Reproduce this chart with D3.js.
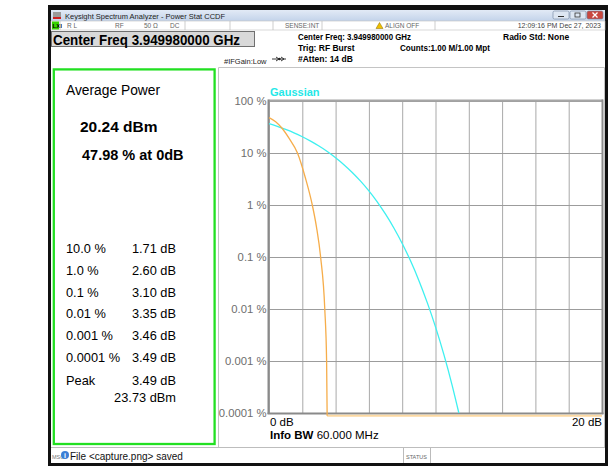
<!DOCTYPE html>
<html><head><meta charset="utf-8">
<script src="https://cdn.jsdelivr.net/npm/d3@7"></script>
<style>
html,body{margin:0;padding:0;background:#fff;overflow:hidden}
svg{display:block;font-family:"Liberation Sans",Arial,sans-serif}
</style>
</head><body>
<svg id="c" width="608" height="466"></svg>
<script>
// ---- data ----
const yTickValues = [100, 10, 1, 0.1, 0.01, 0.001, 0.0001];
const yTickLabels = ["100 %", "10 %", "1 %", "0.1 %", "0.01 %", "0.001 %", "0.0001 %"];
const xGridValues = [0, 2, 4, 6, 8, 10, 12, 14, 16, 18, 20];
const xEndLabels = ["0 dB", "20 dB"];
const gaussianDb  = [0, 0.5, 1, 1.5, 2, 2.5, 3, 3.5, 4, 4.5, 5, 5.5, 6, 6.5, 7, 7.5, 8, 8.5, 9, 9.5, 10, 10.5, 11, 11.4];
const gaussianPct = [36.8, 32.6, 28.4, 24.4, 20.5, 16.9, 13.6, 10.7, 8.11, 5.97, 4.23, 2.88, 1.87, 1.15, 0.665, 0.361, 0.182, 0.0843, 0.0355, 0.0134, 0.00454, 0.00134, 0.000341, 0.000101];
const measuredDb  = [0, 0.4, 0.76, 1.2, 1.71, 2.2, 2.6, 2.85, 3.1, 3.35, 3.46, 3.49];
const measuredPct = [47.98, 40, 30.6, 19.3, 10, 3.2, 1, 0.38, 0.1, 0.01, 0.001, 0.0001];
const floorDb  = [3.49, 20];
const floorPct = [0.0000885, 0.0000885];
const statPercent = ["10.0 %", "1.0 %", "0.1 %", "0.01 %", "0.001 %", "0.0001 %"];
const statDb      = ["1.71 dB", "2.60 dB", "3.10 dB", "3.35 dB", "3.46 dB", "3.49 dB"];
const peakDb = "3.49 dB", peakDbm = "23.73 dBm";
const avgPower = "20.24 dBm", avgPct = "47.98 % at 0dB";
const centerFreq = "Center Freq 3.949980000 GHz";

const svg = d3.select("#c");

// ---- window chrome ----
svg.append("rect").attr("x",48).attr("y",5).attr("width",560).attr("height",461).attr("fill","#111");
svg.append("rect").attr("x",51).attr("y",10).attr("width",554).attr("height",453).attr("fill","#fff");
const defs = svg.append("defs");
const g1 = defs.append("linearGradient").attr("id","tb").attr("x1",0).attr("x2",0).attr("y1",0).attr("y2",1);
g1.append("stop").attr("offset","0").attr("stop-color","#e2eaf6");
g1.append("stop").attr("offset","1").attr("stop-color","#c3d3ea");
svg.append("rect").attr("x",51).attr("y",10).attr("width",554).attr("height",11).attr("fill","url(#tb)");
svg.append("rect").attr("x",53).attr("y",12).attr("width",8).attr("height",7).attr("fill","#9a9a9a");
svg.append("rect").attr("x",53).attr("y",17).attr("width",8).attr("height",2).attr("fill","#d02020");
svg.append("text").attr("x",65).attr("y",18.5).attr("font-size",7.5).attr("fill","#222")
  .text("Keysight Spectrum Analyzer - Power Stat CCDF");
[[553,"#dde6f2"],[570,"#dde6f2"],[587,"#c9473f"]].forEach(([bx,c])=>{
  svg.append("rect").attr("x",bx).attr("y",11).attr("width",16).attr("height",8).attr("rx",1.5)
    .attr("fill",c).attr("stroke","#6b7f9c").attr("stroke-width",0.6);
});
svg.append("line").attr("x1",558).attr("x2",564).attr("y1",16.5).attr("y2",16.5).attr("stroke","#333").attr("stroke-width",1);
svg.append("rect").attr("x",575).attr("y",13).attr("width",5).attr("height",4).attr("fill","none").attr("stroke","#333").attr("stroke-width",0.8);
svg.append("path").attr("d","M592.5,12.5 L597.5,17.5 M597.5,12.5 L592.5,17.5").attr("stroke","#fff").attr("stroke-width",1.3);

// status row
svg.append("rect").attr("x",51).attr("y",21).attr("width",554).attr("height",9).attr("fill","#fff")
  .attr("stroke","#c0c0c0").attr("stroke-width",0.6);
svg.append("rect").attr("x",52).attr("y",21.5).attr("width",7).attr("height",8).attr("fill","#36d400");
svg.append("text").attr("x",52.5).attr("y",28).attr("font-size",6).attr("font-weight","bold").attr("fill","#000").text("LXI");
[60,185,230,273,322,435].forEach(sx=>{
  svg.append("line").attr("x1",sx).attr("x2",sx).attr("y1",21).attr("y2",30).attr("stroke","#c0c0c0").attr("stroke-width",0.8);
});
const st = [["R L",67],["RF",115],["50 Ω",144],["DC",170],["SENSE:INT",285],["ALIGN OFF",385]];
st.forEach(([t,sx])=>svg.append("text").attr("x",sx).attr("y",28).attr("font-size",6.5).attr("fill","#666").text(t));
svg.append("path").attr("d","M376,28.5 L379.5,22.5 L383,28.5 Z").attr("fill","#f0c000").attr("stroke","#8a6d00").attr("stroke-width",0.5);
svg.append("text").attr("x",601).attr("y",28).attr("text-anchor","end").attr("font-size",7).attr("fill","#444")
  .text("12:09:16 PM Dec 27, 2023");

// center freq box
svg.append("rect").attr("x",51.5).attr("y",31.5).attr("width",203).attr("height",15).attr("fill","#d9d9d9")
  .attr("stroke","#707070").attr("stroke-width",1);
svg.append("text").attr("x",53).attr("y",44.5).attr("font-size",14).attr("font-weight","bold").attr("fill","#000")
  .attr("textLength",187).attr("lengthAdjust","spacingAndGlyphs").text(centerFreq);

// right header info
const hdr = [["Center Freq: 3.949980000 GHz",298,39.5,113],["Trig: RF Burst",298,50.5,null],["#Atten: 14 dB",298,61.5,null],
             ["Counts:1.00 M/1.00 Mpt",400,50.5,90],["Radio Std: None",503,39.5,null]];
hdr.forEach(([t,hx,hy,tl])=>{
  const e = svg.append("text").attr("x",hx).attr("y",hy).attr("font-size",8.5).attr("font-weight","bold").attr("fill","#000").text(t);
  if (tl) e.attr("textLength",tl).attr("lengthAdjust","spacingAndGlyphs");
});
svg.append("text").attr("x",224).attr("y",63.5).attr("font-size",7.5).attr("fill","#222").text("#IFGain:Low");
svg.append("path").attr("d","M272,59 L286,59 M276,57 L279,59 L276,61 M281,57 L284,59 L281,61").attr("stroke","#222").attr("stroke-width",0.9).attr("fill","none");
svg.append("circle").attr("cx",279.5).attr("cy",59).attr("r",1.2).attr("fill","#222");

// ---- left panel ----
svg.append("rect").attr("x",53.8).attr("y",69.4).attr("width",160.8).attr("height",374.6)
  .attr("fill","#fff").attr("stroke","#22e022").attr("stroke-width",2.3);
svg.append("text").attr("x",66).attr("y",94.5).attr("font-size",13.8).attr("fill","#000").text("Average Power");
svg.append("text").attr("x",80).attr("y",131.5).attr("font-size",15.5).attr("font-weight","bold").attr("fill","#000").text(avgPower);
svg.append("text").attr("x",82).attr("y",160).attr("font-size",14.5).attr("font-weight","bold").attr("fill","#000").text(avgPct);
const rowY = i => 253.3 + i*21.7;
statPercent.forEach((t,i)=>{
  svg.append("text").attr("x",66).attr("y",rowY(i)).attr("font-size",12.8).attr("fill","#000").text(t);
  svg.append("text").attr("x",176).attr("y",rowY(i)).attr("text-anchor","end").attr("font-size",12.8).attr("fill","#000").text(statDb[i]);
});
svg.append("text").attr("x",66).attr("y",385).attr("font-size",12.8).attr("fill","#000").text("Peak");
svg.append("text").attr("x",176).attr("y",385).attr("text-anchor","end").attr("font-size",12.8).attr("fill","#000").text(peakDb);
svg.append("text").attr("x",176).attr("y",401.7).attr("text-anchor","end").attr("font-size",12.8).attr("fill","#000").text(peakDbm);

// ---- right panel box ----
svg.append("path").attr("d","M218.5,447.5 L218.5,67.5 L604.5,67.5 L604.5,447.5").attr("fill","none").attr("stroke","#c4c4c4").attr("stroke-width",1);
svg.append("line").attr("x1",51).attr("x2",605).attr("y1",447.5).attr("y2",447.5).attr("stroke","#bdbdbd").attr("stroke-width",1);

// ---- plot ----
const L = 269, R = 602, T = 101, B = 413;
const x = d3.scaleLinear().domain([0, 20]).range([L, R]);
const y = d3.scaleLog().domain([0.0001, 100]).range([B, T]);

const gx = svg.append("g").attr("transform",`translate(0,${B})`)
  .call(d3.axisBottom(x).tickValues(xGridValues).tickSize(-(B-T)).tickFormat(""));
gx.select(".domain").remove();
gx.selectAll(".tick line").attr("stroke","#a9a9a9").attr("stroke-width",1);

const gy = svg.append("g").attr("transform",`translate(${L},0)`)
  .call(d3.axisLeft(y).tickValues(yTickValues).tickSize(-(R-L)).tickPadding(3)
    .tickFormat((d,i)=>yTickLabels[i]));
gy.select(".domain").remove();
gy.selectAll(".tick line").attr("stroke","#9c9c9c").attr("stroke-width",1);
gy.selectAll(".tick text").attr("font-size",11.3).attr("fill","#6e6e6e")
  .attr("font-family","'Liberation Sans',Arial,sans-serif").attr("x",-2.5);

// frame
svg.append("line").attr("x1",L-0.5).attr("x2",R+1).attr("y1",T-0.5).attr("y2",T-0.5).attr("stroke","#a6a6a6").attr("stroke-width",2);
svg.append("line").attr("x1",R+0.5).attr("x2",R+0.5).attr("y1",T-1.5).attr("y2",B+1).attr("stroke","#8e8e8e").attr("stroke-width",2);
svg.append("line").attr("x1",L-0.5).attr("x2",L-0.5).attr("y1",T-1.5).attr("y2",B+1).attr("stroke","#8a8a8a").attr("stroke-width",2);
svg.append("line").attr("x1",L-1.5).attr("x2",R+1.5).attr("y1",B+0.5).attr("y2",B+0.5).attr("stroke","#8a8a8a").attr("stroke-width",2);

const smooth = d3.line().x(d=>x(d[0])).y(d=>y(d[1])).curve(d3.curveMonotoneX);
const straight = d3.line().x(d=>x(d[0])).y(d=>y(d[1]));
svg.append("path").datum(floorDb.map((d,i)=>[d,floorPct[i]]))
  .attr("d", straight).attr("fill","none").attr("stroke","#fcd9a2").attr("stroke-width",2);
svg.append("path").datum(gaussianDb.map((d,i)=>[d,gaussianPct[i]]))
  .attr("d", smooth).attr("fill","none").attr("stroke","#3ef0f0").attr("stroke-width",1.3);
const meas = measuredDb.map((d,i)=>[d,measuredPct[i]]);
svg.append("path").datum(meas)
  .attr("d", smooth).attr("fill","none").attr("stroke","#f6ad4a").attr("stroke-width",1.3);
svg.append("path").datum([meas[meas.length-1],[floorDb[0],floorPct[0]]])
  .attr("d", straight).attr("fill","none").attr("stroke","#f6ad4a").attr("stroke-width",1.3);

svg.append("text").attr("x",270).attr("y",95.5).attr("font-size",11).attr("font-weight","bold").attr("fill","#24e8e8").text("Gaussian");
svg.append("text").attr("x",x(0)+1).attr("y",425.5).attr("font-size",11.5).attr("fill","#000").text(xEndLabels[0]);
svg.append("text").attr("x",x(20)).attr("y",425.5).attr("text-anchor","end").attr("font-size",11.5).attr("fill","#000").text(xEndLabels[1]);
const ib = svg.append("text").attr("x",270).attr("y",438.5).attr("font-size",11.5).attr("fill","#000");
ib.append("tspan").attr("font-weight","bold").text("Info BW ");
ib.append("tspan").text("60.000 MHz");

// ---- message bar ----
svg.append("text").attr("x",52).attr("y",459).attr("font-size",5.5).attr("fill","#777").text("MSG");
svg.append("circle").attr("cx",65).attr("cy",455).attr("r",4).attr("fill","#3c7fd6");
svg.append("text").attr("x",65).attr("y",458).attr("text-anchor","middle").attr("font-size",7).attr("font-weight","bold").attr("fill","#fff").text("i");
svg.append("text").attr("x",70).attr("y",459.5).attr("font-size",10).attr("fill","#111").text("File <capture.png> saved");
svg.append("line").attr("x1",403.5).attr("x2",403.5).attr("y1",448).attr("y2",463).attr("stroke","#bbb");
svg.append("line").attr("x1",430.5).attr("x2",430.5).attr("y1",448).attr("y2",463).attr("stroke","#bbb");
svg.append("text").attr("x",406).attr("y",459).attr("font-size",5.5).attr("fill","#666").text("STATUS");
</script>
</body></html>
